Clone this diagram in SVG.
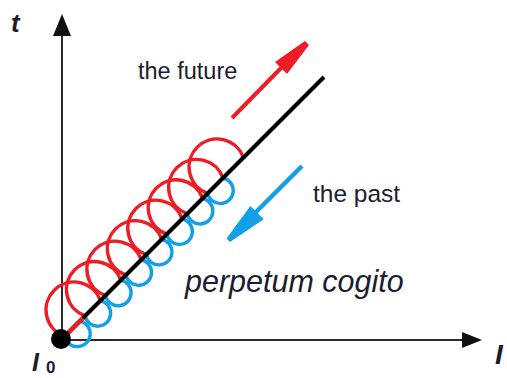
<svg xmlns="http://www.w3.org/2000/svg" width="507" height="378" viewBox="0 0 507 378">
<style>
.axis{stroke:#2a2a2a;stroke-width:2;fill:none}
.head{fill:#111}
.red{stroke:#ee1c25;stroke-width:3.4;fill:none;stroke-linecap:round}
.blue{stroke:#14a0e6;stroke-width:3.4;fill:none;stroke-linecap:round}
.lbl{font-family:"Liberation Sans",Arial,sans-serif;fill:#1c1c30}
.ax{font-weight:bold;font-style:italic}
</style>
<rect width="507" height="378" fill="#ffffff"/>
<g id="axes">
<line class="axis" x1="62" y1="340" x2="62" y2="32"/>
<polygon class="head" points="53,36 71,36 62,14"/>
<line class="axis" x1="62" y1="340" x2="466" y2="340"/>
<polygon class="head" points="462,332 462,348 482,340"/>
</g>
<g id="coil">
<g id="red-loops">
<path class="red" d="M64.62,336.38 A28,28 0 1 1 100.40,300.60"/>
<path class="red" d="M85.05,315.95 A28,28 0 1 1 120.83,280.17"/>
<path class="red" d="M105.49,295.51 A28,28 0 1 1 141.27,259.73"/>
<path class="red" d="M125.92,275.08 A28,28 0 1 1 161.70,239.30"/>
<path class="red" d="M146.36,254.64 A28,28 0 1 1 182.14,218.86"/>
<path class="red" d="M166.79,234.21 A28,28 0 1 1 202.57,198.43"/>
<path class="red" d="M187.23,213.77 A28,28 0 1 1 223.01,177.99"/>
<path class="red" d="M207.66,193.34 A28,28 0 1 1 243.44,157.56"/>
</g>
<g id="blue-loops">
<path class="blue" d="M64.62,336.38 A12.94,12.94 0 1 0 79.96,321.04"/>
<path class="blue" d="M85.05,315.95 A12.94,12.94 0 1 0 100.40,300.60"/>
<path class="blue" d="M105.49,295.51 A12.94,12.94 0 1 0 120.83,280.17"/>
<path class="blue" d="M125.92,275.08 A12.94,12.94 0 1 0 141.27,259.73"/>
<path class="blue" d="M146.36,254.64 A12.94,12.94 0 1 0 161.70,239.30"/>
<path class="blue" d="M166.79,234.21 A12.94,12.94 0 1 0 182.14,218.86"/>
<path class="blue" d="M187.23,213.77 A12.94,12.94 0 1 0 202.57,198.43"/>
<path class="blue" d="M207.66,193.34 A12.94,12.94 0 1 0 223.01,177.99"/>
</g>
</g>
<g id="timeline">
<line x1="62" y1="339" x2="324" y2="77" stroke="#000" stroke-width="4"/>
<line x1="63" y1="338" x2="83" y2="318" stroke="#ee1c25" stroke-width="4"/>
<circle cx="61" cy="339" r="10" fill="#000"/>
</g>
<g id="connectors">
<g id="future-arrow">
<line x1="232" y1="118" x2="282" y2="67" stroke="#ee1c25" stroke-width="4"/>
<polygon points="275,62 287,74 309,45 305,41" fill="#ee1c25"/>
</g>
<g id="past-arrow">
<line x1="302" y1="166" x2="255" y2="213" stroke="#14a0e6" stroke-width="4.5"/>
<polygon points="250.3,205.9 263.7,219.3 230,242 226.5,238.5" fill="#14a0e6"/>
</g>
</g>
<g id="label-t"><text class="lbl ax" x="11" y="32" font-size="26">t</text></g>
<g id="label-I"><text class="lbl ax" x="495" y="364" font-size="28">I</text></g>
<g id="label-I0"><text class="lbl ax" x="32" y="371" font-size="25">I</text><text class="lbl" x="46" y="373" font-size="17" font-weight="bold">0</text></g>
<g id="label-future"><text class="lbl" x="138" y="79" font-size="23.5">the future</text></g>
<g id="label-past"><text class="lbl" x="313" y="202" font-size="24.5">the past</text></g>
<g id="label-cogito"><text class="lbl" x="185" y="292" font-size="30.5" font-style="italic">perpetum cogito</text></g>
</svg>
